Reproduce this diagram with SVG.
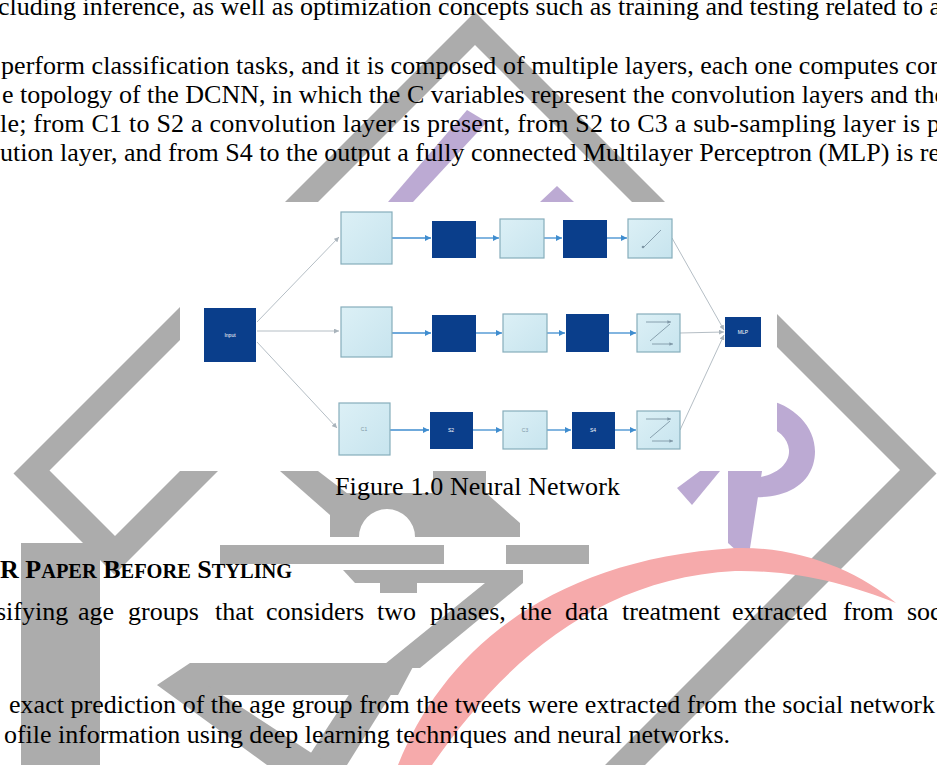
<svg xmlns="http://www.w3.org/2000/svg" width="937" height="765" viewBox="0 0 937 765">
<defs>
<style>
.g{fill:#acacac}
.p{fill:#bcaad3}
.body{font-family:"Liberation Serif","Times New Roman",serif;font-size:26px;fill:#000}
.dk{fill:#0a3e8b}
.lt{fill:url(#lg);stroke:#86adbb;stroke-width:1.2}
.ln{stroke:#b5bec5;stroke-width:1;fill:none}
.bl{stroke:#3f8dcf;stroke-width:1.3;fill:none}
.ic{stroke:#7f97a6;stroke-width:0.9;fill:none}
.lbl{font-family:"Liberation Sans",Arial,sans-serif;font-size:5px;text-anchor:middle}
</style>
<linearGradient id="lg" x1="0" y1="0" x2="1" y2="1"><stop offset="0" stop-color="#dcf0f6"/><stop offset="1" stop-color="#c7e4ee"/></linearGradient>
<marker id="ag" viewBox="0 0 6 6" refX="6" refY="3" markerWidth="5" markerHeight="5" orient="auto"><path d="M0,0 L6,3 L0,6 z" fill="#a9b3bb"/></marker>
<marker id="ab" viewBox="0 0 6 6" refX="6" refY="3" markerWidth="5" markerHeight="5" orient="auto"><path d="M0,0 L6,3 L0,6 z" fill="#3f8dcf"/></marker>
<marker id="ai" viewBox="0 0 6 6" refX="6" refY="3" markerWidth="4" markerHeight="4" orient="auto"><path d="M0,0 L6,3 L0,6 z" fill="#7f97a6"/></marker>
</defs>
<rect width="937" height="765" fill="#fff"/>
<g id="watermark">
<polygon class="g" points="475,12 936.5,473.5 645,765 605,765 900,470 475,45 49.5,470.5 115,536 180,471 218,471 114.5,574.5 13.5,473.5"/>
<rect class="g" x="21" y="543" width="79" height="222"/>
<path class="g" d="M330,537 L330,512 Q330,493 350,493 L486,493 L520,523 L520,537 L415,537 A28,28 0 0 0 359,537 Z"/>
<rect class="g" x="433" y="471" width="53" height="22"/>
<polygon class="g" points="280,471 318,471 352,497 330,515"/>
<rect class="g" x="220" y="545" width="224" height="19"/>
<rect class="g" x="506" y="545" width="83" height="19"/>
<polygon class="g" points="343,570 523,570 523,583 355,583"/>
<rect class="g" x="380" y="583" width="37" height="10"/>
<polygon class="g" points="485,583 523,583 420,668 380,668"/>
<polygon class="g" points="157,685 190,663 415,663 398,695 207,695"/>
<polygon class="g" points="350,693 392,693 347,765 303,765"/>
<polygon class="g" points="157,685 207,685 330,765 267,765"/>
<polygon class="p" points="388,202 413,202 487,122 467,110"/>
<polygon class="p" points="540,202 557,186 574,202"/>
<path class="p" d="M760,398 C800,405 822,435 813,465 C805,490 778,499 748,497 L750,478 C772,478 790,466 789,450 C788,438 778,428 760,424 Z"/>
<polygon class="p" points="728,471 762,471 748,561 728,543"/>
<polygon class="p" points="700,471 720,471 692,505 677,488"/>
<path fill="#f6aaab" d="M398,765 C440,660 540,560 735,548 C800,546 860,572 896,603 C850,585 800,570 735,571 C600,578 505,660 432,765 Z"/>
</g>
<g id="figure">
<rect x="180" y="202" width="597" height="269" fill="#fff"/>
<g id="connectors">
<line class="ln" x1="257" y1="322" x2="339" y2="237" marker-end="url(#ag)"/>
<line class="ln" x1="257" y1="331" x2="339" y2="331" marker-end="url(#ag)"/>
<line class="ln" x1="257" y1="342" x2="337" y2="428" marker-end="url(#ag)"/>
<line class="bl" x1="392" y1="238" x2="431" y2="238" marker-end="url(#ab)"/>
<line class="bl" x1="476" y1="238" x2="499" y2="238" marker-end="url(#ab)"/>
<line class="bl" x1="544" y1="238" x2="562" y2="238" marker-end="url(#ab)"/>
<line class="bl" x1="607" y1="238" x2="627" y2="238" marker-end="url(#ab)"/>
<line class="bl" x1="392" y1="333" x2="431" y2="333" marker-end="url(#ab)"/>
<line class="bl" x1="476" y1="333" x2="502" y2="333" marker-end="url(#ab)"/>
<line class="bl" x1="547" y1="333" x2="565" y2="333" marker-end="url(#ab)"/>
<line class="bl" x1="609" y1="333" x2="636" y2="333" marker-end="url(#ab)"/>
<line class="bl" x1="390" y1="430" x2="429" y2="430" marker-end="url(#ab)"/>
<line class="bl" x1="473" y1="430" x2="502" y2="430" marker-end="url(#ab)"/>
<line class="bl" x1="547" y1="430" x2="571" y2="430" marker-end="url(#ab)"/>
<line class="bl" x1="615" y1="430" x2="636" y2="430" marker-end="url(#ab)"/>
<line class="ln" x1="672" y1="238" x2="724" y2="330" marker-end="url(#ag)"/>
<line class="ln" x1="680" y1="333" x2="724" y2="332" marker-end="url(#ag)"/>
<line class="ln" x1="680" y1="430" x2="724" y2="335" marker-end="url(#ag)"/>
</g>
<g id="input"><rect class="dk" x="204" y="308" width="52" height="54"/><text class="lbl" x="230" y="337" fill="#fff">Input</text></g>
<g id="a1"><rect class="lt" x="341" y="212" width="51" height="52"/></g>
<g id="b1"><rect class="dk" x="432" y="221" width="44" height="37"/></g>
<g id="c1"><rect class="lt" x="500" y="219" width="44" height="39"/></g>
<g id="d1"><rect class="dk" x="563" y="220" width="44" height="38"/></g>
<g id="e1"><rect class="lt" x="628" y="219" width="44" height="39"/><line class="ic" x1="644" y1="247" x2="661" y2="230"/><circle cx="643" cy="247" r="1.3" fill="#7f97a6"/></g>
<g id="a2"><rect class="lt" x="341" y="307" width="51" height="50"/></g>
<g id="b2"><rect class="dk" x="432" y="315" width="44" height="37"/></g>
<g id="c2"><rect class="lt" x="503" y="314" width="44" height="38"/></g>
<g id="d2"><rect class="dk" x="566" y="314" width="43" height="38"/></g>
<g id="e2"><rect class="lt" x="637" y="314" width="43" height="38"/><line class="ic" x1="646" y1="322" x2="671" y2="322" marker-end="url(#ai)"/><line class="ic" x1="650" y1="341" x2="670" y2="324"/><line class="ic" x1="652" y1="344" x2="673" y2="344" marker-end="url(#ai)"/></g>
<g id="a3"><rect class="lt" x="339" y="403" width="51" height="52"/><text class="lbl" x="364" y="431" fill="#7f97a6">C1</text></g>
<g id="b3"><rect class="dk" x="430" y="412" width="43" height="37"/><text class="lbl" x="451" y="432" fill="#fff">S2</text></g>
<g id="c3"><rect class="lt" x="503" y="411" width="44" height="38"/><text class="lbl" x="525" y="432" fill="#7f97a6">C3</text></g>
<g id="d3"><rect class="dk" x="572" y="412" width="43" height="37"/><text class="lbl" x="593" y="432" fill="#fff">S4</text></g>
<g id="e3"><rect class="lt" x="637" y="411" width="43" height="38"/><line class="ic" x1="646" y1="419" x2="671" y2="419" marker-end="url(#ai)"/><line class="ic" x1="650" y1="438" x2="670" y2="421"/><line class="ic" x1="652" y1="441" x2="673" y2="441" marker-end="url(#ai)"/></g>
<g id="mlp"><rect class="dk" x="725" y="317" width="36" height="30"/><text class="lbl" x="743" y="334" fill="#fff">MLP</text></g>
</g>
<g id="text">
<text class="body" x="-2" y="15" textLength="943">cluding inference, as well as optimization concepts such as training and testing related to a</text>
<text class="body" x="1" y="74" textLength="942">perform classification tasks, and it is composed of multiple layers, each one computes con</text>
<text class="body" x="2" y="103" textLength="944">e topology of the DCNN, in which the C variables represent the convolution layers and the</text>
<text class="body" x="0" y="132" textLength="940">le; from C1 to S2 a convolution layer is present, from S2 to C3 a sub-sampling layer is p</text>
<text class="body" x="0" y="161" textLength="940">ution layer, and from S4 to the output a fully connected Multilayer Perceptron (MLP) is re</text>
<text class="body" x="335" y="495" textLength="285">Figure 1.0 Neural Network</text>
<text class="body" x="0" y="578" font-weight="bold" font-size="25.5">R P<tspan font-size="20.4">APER</tspan> B<tspan font-size="20.4">EFORE</tspan> S<tspan font-size="20.4">TYLING</tspan></text>
<text class="body" y="620"><tspan x="-4">sifying</tspan><tspan x="78">age</tspan><tspan x="128">groups</tspan><tspan x="215">that</tspan><tspan x="266">considers</tspan><tspan x="377">two</tspan><tspan x="430">phases,</tspan><tspan x="520">the</tspan><tspan x="565">data</tspan><tspan x="622">treatment</tspan><tspan x="732">extracted</tspan><tspan x="843">from</tspan><tspan x="907">soc</tspan></text>
<text class="body" x="9" y="713" textLength="926">exact prediction of the age group from the tweets were extracted from the social network</text>
<text class="body" x="4" y="743" textLength="726">ofile information using deep learning techniques and neural networks.</text>
</g>
</svg>
